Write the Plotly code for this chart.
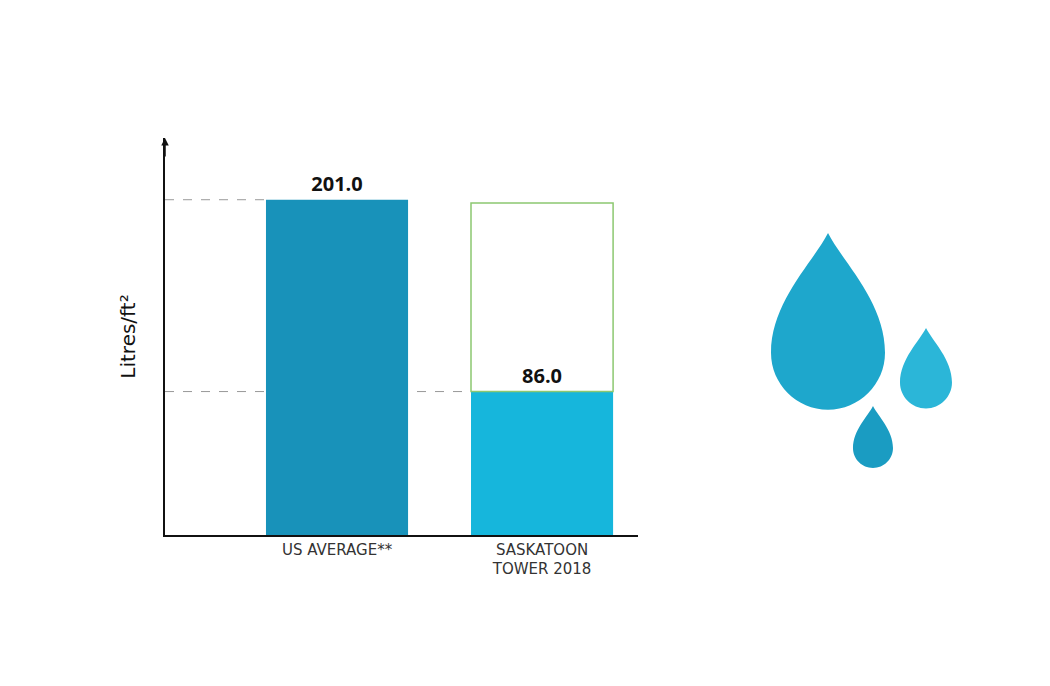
import plotly.graph_objects as go

categories = ["US AVERAGE**", "SASKATOON<br>TOWER 2018"]
values = [201.0, 86.0]
reference_outline = 201.0
labels = ["<b>201.0</b>", "<b>86.0</b>"]

L, R, T, B = 157, 630, 130, 527
W, H = R - L, B - T
def px(x, y):
    return (x - L) / W, (B - y) / H

def path(cmds):
    out = []
    for c in cmds:
        if isinstance(c, str):
            out.append(c)
        else:
            xp, yp = px(*c)
            out.append(f"{xp:.4f},{yp:.4f}")
    return " ".join(out)

def drop(cx, tip, r):
    cy = tip + (r * 2.1)
    return path(["M", (cx, tip), "C", (cx + r * 0.25, tip + r * 0.5), (cx + r, tip + r * 1.2), (cx + r, cy),
                 "C", (cx + r, cy + r * 0.55), (cx + r * 0.55, cy + r), (cx, cy + r),
                 "C", (cx - r * 0.55, cy + r), (cx - r, cy + r * 0.55), (cx - r, cy),
                 "C", (cx - r, tip + r * 1.2), (cx - r * 0.25, tip + r * 0.5), (cx, tip), "Z"])

xs = [0, 1]
fig = go.Figure()
fig.add_bar(x=xs, y=values, width=0.693, marker=dict(color=["#1892ba", "#16b6dc"], line=dict(width=0)),
            text=labels, textposition="outside", textfont=dict(family="Open Sans", size=20, color="#111"),
            cliponaxis=False, showlegend=False)

shapes = []
for v, x1 in zip(values, [-0.3465, 0.6535]):
    shapes.append(dict(type="line", xref="x", yref="y", x0=-0.839, x1=x1, y0=v, y1=v,
                       line=dict(color="#999", width=1, dash="dash"), layer="below"))
shapes.append(dict(type="rect", xref="x", yref="y", x0=1 - 0.3465, x1=1 + 0.3465, y0=values[1], y1=reference_outline - 2,
                   line=dict(color="#8cc870", width=1.5), fillcolor="rgba(0,0,0,0)"))
for cx, tip, r, col in [(820, 225, 57, "#1ea7cc"), (918, 320, 26, "#2bb6d8"), (865, 398, 20, "#1a9cc2")]:
    shapes.append(dict(type="path", xref="paper", yref="paper", path=drop(cx, tip, r), fillcolor=col, line=dict(width=0)))
fig.update_layout(shapes=shapes)

fig.add_annotation(xref="paper", yref="paper", x=0, y=1.0, ax=0, ay=20,
                   showarrow=True, arrowhead=2, arrowsize=1, arrowwidth=1.5, arrowcolor="#111", text="")

fig.update_layout(
    width=1050, height=686, margin=dict(l=L, r=1050 - R, t=T, b=686 - B, autoexpand=False),
    paper_bgcolor="white", plot_bgcolor="white",
    font=dict(family="Open Sans", color="#222"),
    xaxis=dict(range=[-0.839, 1.468], tickvals=xs, ticktext=categories, showgrid=False, zeroline=False,
               showline=True, linecolor="#111", linewidth=1.5, ticks="", automargin=False,
               tickfont=dict(family="DejaVu Sans", size=15, color="#333")),
    yaxis=dict(range=[0, 238], showgrid=False, zeroline=False, showline=True, linecolor="#111", linewidth=1.5,
               tickvals=values, ticktext=["", ""], ticks="", automargin=False,
               title=dict(text="Litres/ft²", font=dict(family="DejaVu Sans", size=20, color="#111"), standoff=20)),
)
fig.write_html("out.html")
